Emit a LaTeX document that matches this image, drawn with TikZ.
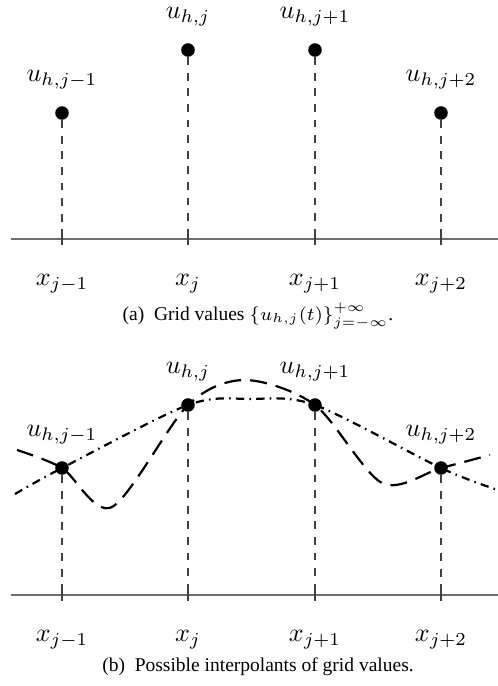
\documentclass[tikz,border=0pt]{standalone}
\usepackage{fontspec}
\newfontfamily\capfont{Liberation Serif}
\usetikzlibrary{positioning}
\definecolor{AxisGray}{HTML}{6E6E6E}

\begin{document}
\begin{tikzpicture}[
  x=0.3846pt,y=-0.3846pt,
  gridpt/.style={circle,fill=black,inner sep=0pt,minimum size=5.2pt},
  axisline/.style={draw=AxisGray,line width=0.8pt},
  drop/.style={black!75,dashed,line width=0.4pt},
  tickmark/.style={black!75,line width=0.5pt},
  interpA/.style={line width=0.85pt,dash pattern=on 6.5pt off 3.5pt},
  interpB/.style={line width=0.85pt,dash pattern=on 3.2pt off 2pt on 0.6pt off 2pt},
  captext/.style={font=\capfont\fontsize{7.5}{9}\selectfont}
]
\useasboundingbox (0,0) rectangle (498,686);

% (a) grid values
\draw[axisline] (11,239) -- (498,239);
\foreach \i/\x/\y/\lab in {1/62/113/{j-1},2/188/50/{j},3/315/50/{j+1},4/441/113/{j+2}} {
  \node[gridpt] (pa\i) at (\x,\y) {};
  \coordinate (ta\i) at (\x,239);
  \node[above=3pt of pa\i] (ua\i) {$u_{h,\lab}$};
  \node[below=10pt of ta\i] (xa\i) {$x_{\lab}$};
  \draw[drop] (pa\i) -- (ta\i);
  \draw[tickmark] ([yshift=2.3pt]ta\i) -- ([yshift=-2.3pt]ta\i);
}
\node[captext] (capa) at (258,316) {(a)\ \ Grid values $\{u_{h,j}(t)\}_{j=-\infty}^{+\infty}$.};

% (b) interpolants
\draw[axisline] (11,595) -- (498,595);
\foreach \i/\x/\y/\lab in {1/62/468/{j-1},2/188/405/{j},3/315/405/{j+1},4/441/468/{j+2}} {
  \node[gridpt] (pb\i) at (\x,\y) {};
  \coordinate (tb\i) at (\x,595);
  \node[above=3pt of pb\i] (ub\i) {$u_{h,\lab}$};
  \node[below=10pt of tb\i] (xb\i) {$x_{\lab}$};
  \draw[drop] (pb\i) -- (tb\i);
  \draw[tickmark] ([yshift=2.3pt]tb\i) -- ([yshift=-2.3pt]tb\i);
}
\draw[interpA] plot[smooth] coordinates {(17,450) (pb1.center) (112,507)
  (pb2.center) (245,380) (pb3.center) (382,483) (pb4.center) (490,455)};
\draw[interpB] plot[smooth] coordinates {(15,494) (pb1.center) (pb2.center)
  (250,399) (pb3.center) (pb4.center) (495,489)};
\node[captext] (capb) at (258,667) {(b)\ \ Possible interpolants of grid values.};
\end{tikzpicture}
\end{document}
